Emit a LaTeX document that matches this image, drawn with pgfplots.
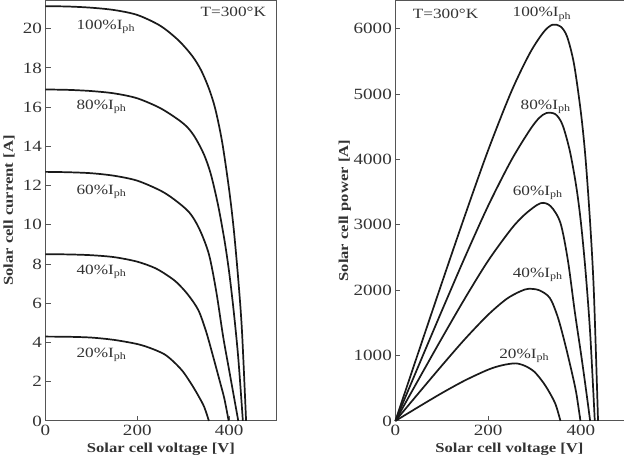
\documentclass[border=0pt]{standalone}
\usepackage{fontspec}
\setmainfont{Liberation Serif}[FakeStretch=1.22]
\usepackage{pgfplots}
\pgfplotsset{compat=1.18}
\usepackage{pgfplotstable}
\definecolor{ink}{HTML}{1A1A1A}
\definecolor{frame}{HTML}{555555}
\definecolor{txt}{HTML}{333333}

% I-V data (V, I) and P-V data (V, P)
\pgfplotstableread{
V I P
0 4.30 0
50 4.29 214.5
100 4.25 425
150 4.13 619.5
200 3.92 784
230 3.70 851
259 3.40 880.6
280 3.00 840
300 2.50 750
320 1.80 576
335 1.20 402
346 0.70 242.2
356 0 0
}\tA
\pgfplotstableread{
V I P
0 8.50 0
50 8.49 424.5
100 8.45 845
150 8.35 1252.5
200 8.12 1624
240 7.78 1867.2
270 7.35 1984.5
287 7.04 2020.5
310 6.45 1999.5
333 5.65 1881.5
350 4.55 1592.5
365 3.30 1204.5
380 2.00 760
390 1.10 429
399 0 0
}\tB
\pgfplotstableread{
V I P
0 12.70 0
50 12.68 634
100 12.63 1263
150 12.50 1875
200 12.25 2450
250 11.75 2937.5
280 11.30 3164
313 10.64 3330.3
335 9.80 3283
356 8.50 3026
372 6.60 2455.2
387 4.30 1664.1
400 2.60 1040
410 1.30 533
420 0 0
}\tC
\pgfplotstableread{
V I P
0 16.90 0
50 16.88 844
100 16.82 1682
150 16.70 2505
200 16.45 3290
250 15.95 3987.5
290 15.35 4451.5
310 14.95 4634.5
326 14.45 4710.7
345 13.60 4692
360 12.60 4536
376 11.00 4136
390 9.20 3588
400 7.60 3040
410 5.60 2296
420 3.20 1344
430 0 0
}\tD
\pgfplotstableread{
V I P
0 21.15 0
50 21.13 1056.5
100 21.07 2107
150 20.95 3142.5
200 20.70 4140
250 20.15 5037.5
290 19.40 5626
320 18.60 5952
339 17.88 6061.3
356 16.95 6034.2
370 15.90 5883
385 14.20 5467
400 11.80 4720
410 9.80 4018
420 7.20 3024
428 4.60 1968.8
437 0 0
}\tE

\begin{document}
\begin{tikzpicture}[font=\fontsize{14}{16}\selectfont]
\pgfplotsset{
  common/.style={
    scale only axis,
    height=417pt,
    xmin=0,
    ymin=0,
    tick align=inside,
    major tick length=5pt,
    xtick pos=bottom, ytick pos=left,
    axis line style={frame, line width=0.9pt},
    tick style={frame, line width=0.9pt},
    /pgf/number format/assume math mode=true,
    ticklabel style={font=\fontsize{15.5}{17}\selectfont, text=txt},
    label style={font=\fontsize{13.5}{16}\selectfont\bfseries, text=txt},
    xtick={0,200,400},
    xticklabel style={yshift=-1pt},
    no markers,
    every axis plot post/.append style={ink, solid, line width=1.7pt, smooth, tension=0.5},
    clip=false,
  },
}
% ---------- Left: I-V ----------
\begin{axis}[common,
  at={(0pt,0pt)},
  width=229pt,
  xmax=503, ymax=21.44,
  ytick={0,2,...,20},
  xlabel={Solar cell voltage [V]},
  ylabel={Solar cell current [A]},
  xlabel style={at={(axis description cs:0.5,-0.067)}, anchor=center},
  ylabel style={at={(axis description cs:-0.158,0.5)}, anchor=center, rotate=0},
]
\addplot table[x=V,y=I] {\tA};
\addplot table[x=V,y=I] {\tB};
\addplot table[x=V,y=I] {\tC};
\addplot table[x=V,y=I] {\tD};
\addplot table[x=V,y=I] {\tE};
\node[anchor=west, text=txt] at (axis cs:60,20.1) {100\%I\textsubscript{ph}};
\node[anchor=west, text=txt] at (axis cs:60,16.0) {80\%I\textsubscript{ph}};
\node[anchor=west, text=txt] at (axis cs:60,11.7) {60\%I\textsubscript{ph}};
\node[anchor=west, text=txt] at (axis cs:60,7.6) {40\%I\textsubscript{ph}};
\node[anchor=west, text=txt] at (axis cs:60,3.35) {20\%I\textsubscript{ph}};
\node[anchor=east, text=txt] at (axis cs:488,20.85) {T=300°K};
\end{axis}
% ---------- Right: P-V ----------
\begin{axis}[common,
  at={(347pt,0pt)},
  width=226.3pt,
  xmax=492, ymax=6432,
  separate axis lines,
  axis x line*=box, axis y line*=left,
  ytick={0,1000,...,6000},
  scaled y ticks=false,
  yticklabel style={/pgf/number format/1000 sep={}},
  xlabel={Solar cell voltage [V]},
  ylabel={Solar cell power [A]},
  xlabel style={at={(axis description cs:0.5,-0.067)}, anchor=center},
  ylabel style={at={(axis description cs:-0.221,0.5)}, anchor=center, rotate=0},
]
\addplot table[x=V,y=P] {\tA};
\addplot table[x=V,y=P] {\tB};
\addplot table[x=V,y=P] {\tC};
\addplot table[x=V,y=P] {\tD};
\addplot table[x=V,y=P] {\tE};
\node[anchor=west, text=txt] at (axis cs:30,6220) {T=300°K};
\node[text=txt] at (axis cs:316,6220) {100\%I\textsubscript{ph}};
\node[text=txt] at (axis cs:324,4800) {80\%I\textsubscript{ph}};
\node[text=txt] at (axis cs:307,3490) {60\%I\textsubscript{ph}};
\node[text=txt] at (axis cs:307,2240) {40\%I\textsubscript{ph}};
\node[text=txt] at (axis cs:278,1000) {20\%I\textsubscript{ph}};
\end{axis}
\end{tikzpicture}
\end{document}
